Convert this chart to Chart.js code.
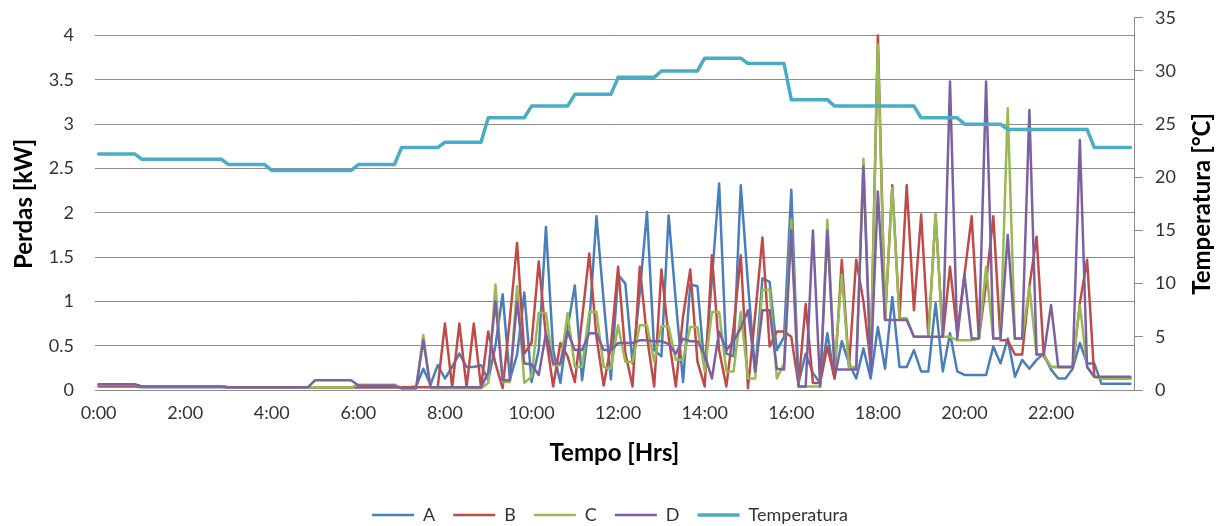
<!DOCTYPE html>
<html>
<head>
<meta charset="utf-8">
<script src="https://cdn.jsdelivr.net/npm/chart.js@4.4.1/dist/chart.umd.min.js"></script>
<style>
  html, body { margin: 0; padding: 0; background: #ffffff; }
  #wrap { width: 1220px; height: 526px; }
</style>
</head>
<body>
<div id="wrap"><canvas id="c" width="1220" height="526"></canvas></div>
<script>
// 10-minute samples over one day (144 categories), labelled every 2 hours
const hourTicks = ['0:00','2:00','4:00','6:00','8:00','10:00','12:00','14:00','16:00','18:00','20:00','22:00'];
const categories = [];
for (let h = 0; h < 24; h++) {
  for (let m = 0; m < 60; m += 10) categories.push(h + ':' + (m < 10 ? '0' + m : m));
}
const lossTicks = [0, 0.5, 1, 1.5, 2, 2.5, 3, 3.5, 4];
const tempTicks = [0, 5, 10, 15, 20, 25, 30, 35];

// Losses per feeder [kW]
const lossA = [
  0.04,0.04,0.04,0.04,0.04,0.04,0.03,0.03,0.03,0.03,0.03,0.03,
  0.03,0.03,0.03,0.03,0.03,0.03,0.03,0.03,0.03,0.03,0.03,0.03,
  0.03,0.03,0.03,0.03,0.03,0.03,0.03,0.03,0.03,0.03,0.03,0.03,
  0.03,0.03,0.03,0.03,0.03,0.03,0.03,0.03,0.04,0.24,0.06,0.28,
  0.13,0.26,0.41,0.26,0.26,0.28,0.11,0.50,1.08,0.12,0.40,1.10,
  0.09,0.45,1.84,0.45,0.08,0.70,1.18,0.11,0.75,1.96,1.00,0.12,
  1.30,1.20,0.30,1.10,2.01,0.45,0.38,1.97,1.00,0.09,1.19,1.17,
  0.24,1.25,2.33,0.41,0.38,2.31,1.20,0.20,1.26,1.22,0.45,0.60,
  2.26,0.08,0.41,0.19,0.08,0.64,0.13,0.55,0.30,0.13,0.47,0.13,
  0.71,0.24,1.05,0.26,0.26,0.45,0.21,0.21,0.98,0.21,0.64,0.21,
  0.17,0.17,0.17,0.17,0.49,0.30,0.58,0.15,0.34,0.24,0.34,0.41,
  0.23,0.13,0.13,0.24,0.53,0.30,0.30,0.07,0.07,0.07,0.07,0.07
];
const lossB = [
  0.05,0.05,0.05,0.05,0.05,0.05,0.04,0.04,0.04,0.04,0.04,0.04,
  0.04,0.04,0.04,0.04,0.04,0.04,0.03,0.03,0.03,0.03,0.03,0.03,
  0.03,0.03,0.03,0.03,0.03,0.03,0.03,0.03,0.03,0.03,0.03,0.03,
  0.03,0.03,0.03,0.03,0.03,0.03,0.03,0.03,0.03,0.03,0.03,0.03,
  0.75,0.03,0.75,0.03,0.75,0.03,0.66,0.30,0.02,0.80,1.66,0.41,
  0.53,1.45,0.60,0.04,0.53,0.38,0.09,0.80,1.54,0.60,0.05,0.50,
  1.39,0.42,0.04,1.39,0.60,0.04,1.36,0.60,0.04,0.83,1.36,0.32,
  0.04,1.52,0.45,0.04,0.70,1.52,0.02,0.85,1.72,0.49,0.66,0.66,
  0.60,0.06,0.97,0.08,0.08,0.49,0.13,1.47,0.26,1.47,1.00,0.30,
  4.00,0.80,2.31,0.81,2.31,0.90,1.98,0.60,1.98,0.60,1.39,0.64,
  1.30,1.96,0.58,1.20,1.96,0.56,0.56,0.40,0.40,1.17,1.73,0.38,
  0.26,0.26,0.26,0.26,0.98,1.47,0.15,0.13,0.13,0.13,0.13,0.13
];
const lossC = [
  0.06,0.06,0.06,0.06,0.06,0.06,0.04,0.04,0.04,0.04,0.04,0.04,
  0.04,0.04,0.04,0.04,0.04,0.04,0.03,0.03,0.03,0.03,0.03,0.03,
  0.03,0.03,0.03,0.03,0.03,0.03,0.03,0.03,0.03,0.03,0.03,0.03,
  0.06,0.06,0.06,0.06,0.06,0.06,0.02,0.02,0.02,0.62,0.02,0.02,
  0.02,0.02,0.02,0.02,0.02,0.02,0.08,1.19,0.09,0.09,1.17,0.08,
  0.15,0.87,0.87,0.28,0.28,0.87,0.26,0.26,0.88,0.88,0.26,0.24,
  0.73,0.32,0.32,0.73,0.73,0.32,0.72,0.72,0.34,0.34,0.71,0.71,
  0.21,0.88,0.88,0.21,0.21,0.88,0.13,0.13,1.13,1.13,0.13,0.30,
  1.92,0.04,0.04,0.04,0.04,1.92,0.26,1.30,0.26,0.26,2.61,0.30,
  3.90,0.80,2.28,0.81,0.81,0.60,0.60,0.60,1.98,0.60,0.60,0.56,
  0.56,0.56,0.58,1.39,0.58,0.58,3.18,0.58,0.58,1.17,0.40,0.40,
  0.26,0.26,0.26,0.26,0.96,0.26,0.15,0.13,0.13,0.13,0.13,0.13
];
const lossD = [
  0.065,0.065,0.065,0.065,0.065,0.065,0.04,0.04,0.04,0.04,0.04,0.04,
  0.04,0.04,0.04,0.04,0.04,0.04,0.03,0.03,0.03,0.03,0.03,0.03,
  0.03,0.03,0.03,0.03,0.03,0.03,0.11,0.11,0.11,0.11,0.11,0.11,
  0.05,0.05,0.05,0.05,0.05,0.05,0.02,0.02,0.02,0.56,0.03,0.03,
  0.03,0.03,0.03,0.03,0.03,0.03,0.20,1.00,0.11,0.11,1.00,0.30,
  0.29,0.17,0.64,0.30,0.30,0.66,0.45,0.45,0.64,0.64,0.45,0.45,
  0.53,0.53,0.53,0.56,0.56,0.55,0.55,0.52,0.41,0.58,0.55,0.55,
  0.40,0.13,0.66,0.45,0.55,0.70,0.90,0.21,0.90,0.90,0.24,0.23,
  1.80,0.04,0.04,1.80,0.04,1.80,0.23,0.23,0.23,0.23,2.52,0.20,
  2.24,0.79,0.79,0.79,0.79,0.60,0.60,0.60,0.60,0.60,3.48,0.58,
  1.30,0.58,0.58,3.48,0.58,0.58,1.75,0.58,0.58,3.16,0.40,0.40,
  0.96,0.26,0.26,0.26,2.82,0.26,0.15,0.15,0.15,0.15,0.15,0.15
];
// Ambient temperature [°C]
const temperature = [
  22.2,22.2,22.2,22.2,22.2,22.2,21.7,21.7,21.7,21.7,21.7,21.7,
  21.7,21.7,21.7,21.7,21.7,21.7,21.2,21.2,21.2,21.2,21.2,21.2,
  20.65,20.65,20.65,20.65,20.65,20.65,20.65,20.65,20.65,20.65,20.65,20.65,
  21.2,21.2,21.2,21.2,21.2,21.2,22.8,22.8,22.8,22.8,22.8,22.8,
  23.3,23.3,23.3,23.3,23.3,23.3,25.6,25.6,25.6,25.6,25.6,25.6,
  26.7,26.7,26.7,26.7,26.7,26.7,27.8,27.8,27.8,27.8,27.8,27.8,
  29.4,29.4,29.4,29.4,29.4,29.4,30.0,30.0,30.0,30.0,30.0,30.0,
  31.2,31.2,31.2,31.2,31.2,31.2,30.7,30.7,30.7,30.7,30.7,30.7,
  27.3,27.3,27.3,27.3,27.3,27.3,26.7,26.7,26.7,26.7,26.7,26.7,
  26.7,26.7,26.7,26.7,26.7,26.7,25.6,25.6,25.6,25.6,25.6,25.6,
  25.0,25.0,25.0,25.0,25.0,25.0,24.5,24.5,24.5,24.5,24.5,24.5,
  24.5,24.5,24.5,24.5,24.5,24.5,22.8,22.8,22.8,22.8,22.8,22.8
];

const FONT = 'Lato';
const GRID = '#8c8c8c';
const TEXT = '#333333';

function lineSet(label, data, color, order, axis, width) {
  return {
    label, data, yAxisID: axis, order,
    borderColor: color, backgroundColor: color,
    borderWidth: width, pointRadius: 0, pointHoverRadius: 0,
    tension: 0, borderJoinStyle: 'round', borderCapStyle: 'round'
  };
}

// Secondary-axis title reads bottom-to-top, like the primary one
const rightAxisTitle = {
  id: 'rightAxisTitle',
  afterDraw(chart) {
    const s = chart.scales.y1;
    const c = chart.ctx;
    c.save();
    c.font = 'bold 24px ' + FONT;
    c.fillStyle = '#000000';
    c.textAlign = 'center';
    c.textBaseline = 'middle';
    c.translate(s.right - 18, (s.top + s.bottom) / 2);
    c.rotate(-Math.PI / 2);
    c.fillText('Temperatura [°C]', 0, 0);
    c.restore();
  }
};

new Chart(document.getElementById('c'), {
  type: 'line',
  data: {
    labels: categories,
    datasets: [
      lineSet('A', lossA, '#4a7ebb', 5, 'y', 2.5),
      lineSet('B', lossB, '#be4b48', 4, 'y', 2.5),
      lineSet('C', lossC, '#98b954', 3, 'y', 2.5),
      lineSet('D', lossD, '#7d60a0', 2, 'y', 2.5),
      lineSet('Temperatura', temperature, '#4bacc6', 1, 'y1', 3.5)
    ]
  },
  options: {
    responsive: false,
    animation: false,
    events: [],
    layout: { padding: { top: 5, left: 0, right: 0, bottom: -8 } },
    plugins: {
      tooltip: { enabled: false },
      legend: {
        position: 'bottom',
        labels: {
          font: { family: FONT, size: 18 },
          color: TEXT,
          usePointStyle: true,
          pointStyle: 'line',
          pointStyleWidth: 42,
          padding: 18,
          sort: (a, b) => a.datasetIndex - b.datasetIndex
        }
      }
    },
    scales: {
      x: {
        type: 'category',
        offset: true,
        grid: { display: false, drawTicks: false },
        border: { display: true, color: GRID, width: 1 },
        ticks: {
          autoSkip: false, maxRotation: 0, minRotation: 0, padding: 12,
          color: TEXT, font: { family: FONT, size: 18 },
          callback: (v, i) => (i % 12 === 0 ? hourTicks[i / 12] : '')
        },
        title: {
          display: true, text: 'Tempo [Hrs]', color: '#000000',
          font: { family: FONT, size: 24, weight: 'bold' },
          padding: { top: 0, bottom: 20 }
        },
        afterFit: s => { s.height = 98; }
      },
      y: {
        position: 'left',
        min: 0, max: 4.2,
        grid: {
          color: GRID, lineWidth: 1, drawTicks: true, tickLength: 14,
          tickColor: 'rgba(0,0,0,0)'
        },
        border: { display: false },
        ticks: {
          padding: 7, color: TEXT,
          font: { family: FONT, size: 18 },
          callback: v => String(v)
        },
        afterBuildTicks: s => { s.ticks = lossTicks.map(v => ({ value: v })); },
        title: {
          display: true, text: 'Perdas [kW]', color: '#000000',
          font: { family: FONT, size: 24, weight: 'bold' },
          padding: { top: 10, bottom: 0 }
        },
        afterFit: s => { s.width = 95; }
      },
      y1: {
        position: 'right',
        min: 0, max: 35,
        grid: {
          drawOnChartArea: false, drawTicks: true, tickLength: 14,
          tickBorderDash: [8, 40], color: GRID
        },
        border: { display: true, color: GRID, width: 1 },
        ticks: {
          padding: 7, color: TEXT,
          font: { family: FONT, size: 18 },
          callback: v => String(v)
        },
        afterBuildTicks: s => { s.ticks = tempTicks.map(v => ({ value: v })); },
        afterFit: s => { s.width = 86; }
      }
    }
  },
  plugins: [rightAxisTitle]
});
</script>
</body>
</html>
